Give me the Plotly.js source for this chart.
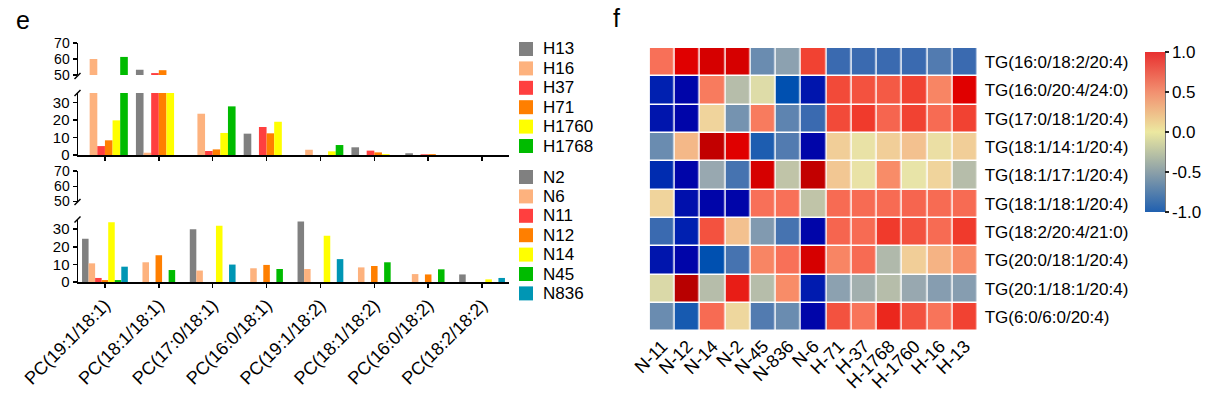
<!DOCTYPE html>
<html>
<head>
<meta charset="utf-8">
<script src="https://cdn.plot.ly/plotly-3.0.1.min.js"></script>
<style>
  html, body { margin: 0; padding: 0; background: #fff; }
  #chart { width: 1222px; height: 393px; }
</style>
</head>
<body>
<div id="chart"></div>
<script>
// ---------- data: panel e (bar charts) ----------
const categories = ['PC(19:1/18:1)', 'PC(18:1/18:1)', 'PC(17:0/18:1)', 'PC(16:0/18:1)',
                    'PC(19:1/18:2)', 'PC(18:1/18:2)', 'PC(16:0/18:2)', 'PC(18:2/18:2)'];

const hNames = ['H13', 'H16', 'H37', 'H71', 'H1760', 'H1768'];
const H13   = [0,    53.3, 0,    12.2, 0,   4.4, 1.0, 0];
const H16   = [60,   1.3,  23.6, 0,    3.0, 0,   0,   0];
const H37   = [5.1,  51.2, 2.3,  16,   0,   2.5, 0.4, 0];
const H71   = [8.4,  53,   3.2,  12.4, 0,   1.5, 0.5, 0];
const H1760 = [19.8, 40,   12.6, 19,   2.1, 0.5, 0,   0];
const H1768 = [61.3, 0,    27.8, 0,    5.7, 0,   0,   0];
const hValues = [H13, H16, H37, H71, H1760, H1768];

const nNames = ['N2', 'N6', 'N11', 'N12', 'N14', 'N45', 'N836'];
const N2   = [24.5, 0,    30,  0,   34.3, 0,    0,   4.3];
const N6   = [10.6, 11.2, 6.5, 7.8, 7.4,  8.3,  4.5, 0];
const N11  = [2.3,  0,    0,   0,   0,    0,    0,   0];
const N12  = [1.1,  15.2, 0,   9.7, 0,    9.1,  4.3, 0];
const N14  = [34,   0,    32,  0,   26.2, 0,    0,   1.5];
const N45  = [1.1,  6.8,  0,   7.4, 0,    11.2, 7.2, 0];
const N836 = [8.7,  0,    9.9, 0,   13,   0,    0,   2.3];
const nValues = [N2, N6, N11, N12, N14, N45, N836];

const lowerTicks = [0, 10, 20, 30];
const upperTicks = [50, 60, 70];

// ---------- data: panel f (heatmap) ----------
const heatCols = ['N-11', 'N-12', 'N-14', 'N-2', 'N-45', 'N-836', 'N-6',
                  'H-71', 'H-37', 'H-1768', 'H-1760', 'H-16', 'H-13'];
const heatRows = ['TG(16:0/18:2/20:4)', 'TG(16:0/20:4/24:0)', 'TG(17:0/18:1/20:4)',
                  'TG(18:1/14:1/20:4)', 'TG(18:1/17:1/20:4)', 'TG(18:1/18:1/20:4)',
                  'TG(18:2/20:4/21:0)', 'TG(20:0/18:1/20:4)', 'TG(20:1/18:1/20:4)',
                  'TG(6:0/6:0/20:4)'];
const heatValues = [
  [ 0.6,   1.3,   1.35,  1.35, -0.6,  -0.45,  0.95, -0.8,  -0.8,  -0.8,  -0.8,  -0.7,  -0.8 ],
  [-1.2,  -1.45,  0.55, -0.25, -0.05, -1.0,  -1.3,   0.9,   0.85,  0.8,   0.95,  0.5,   1.3 ],
  [-1.3,  -1.45,  0.15, -0.55,  0.55, -0.65, -0.8,   0.9,   1.0,   0.7,   0.95,  0.65,  0.95],
  [-0.6,   0.3,   1.45,  1.3,  -0.9,  -0.7,  -1.45,  0.18,  0.02,  0.18,  0.25,  0.05,  0.18],
  [-1.15, -1.45, -0.4,  -0.75,  1.35, -0.2,   1.45,  0.22,  0.02,  0.47,  0.0,   0.15, -0.25],
  [ 0.15, -1.35, -1.45, -1.45,  0.6,   0.6,  -0.2,   0.65,  0.65,  0.65,  0.7,   0.65,  0.65],
  [-0.8,  -1.2,   0.85,  0.25, -0.5,  -0.75, -1.45,  0.7,   0.65,  1.0,   0.85,  0.65,  1.0 ],
  [-1.3,  -1.45, -1.0,  -0.75,  0.5,   0.6,   1.35,  0.5,   0.65, -0.28,  0.18,  0.32,  0.47],
  [-0.07,  1.5,  -0.25,  1.15, -0.25,  0.47, -1.25, -0.45, -0.35, -0.25, -0.4,  -0.48, -0.48],
  [-0.6,  -0.92,  0.65,  0.12, -0.7,  -0.6,  -1.45,  0.85,  0.58,  1.1,   0.85,  0.58,  0.95]
];

// ---------- styling ----------
const W = 1222, Hh = 393;
const px = v => v / W;
const py = v => 1 - v / Hh;
const FONT = 'Liberation Sans, Arial, sans-serif';
const hColors = ['#808080', '#FDB27E', '#FF3F3F', '#FF7F00', '#FFFF00', '#00BB00'];
const nColors = ['#808080', '#FDB27E', '#FF3F3F', '#FF7F00', '#FFFF00', '#00BB00', '#0096B4'];

const traces = [];
hNames.forEach((nm, i) => {
  ['y', 'y2'].forEach(ya => traces.push({type: 'bar', x: categories, y: hValues[i], xaxis: 'x', yaxis: ya,
    name: nm, showlegend: false, marker: {color: hColors[i], line: {width: 0}}, hoverinfo: 'x+y+name'}));
});
nNames.forEach((nm, i) => {
  ['y3', 'y4'].forEach(ya => traces.push({type: 'bar', x: categories, y: nValues[i], xaxis: 'x2', yaxis: ya,
    name: nm, showlegend: false, marker: {color: nColors[i], line: {width: 0}}, hoverinfo: 'x+y+name'}));
});

// heatmap (cells)
const heatScale = [
  [0.0,    '#0000A8'],
  [0.1,    '#0020B0'],
  [0.1667, '#0050B0'],
  [0.2333, '#3A6AB0'],
  [0.3,    '#6A8CB0'],
  [0.3667, '#98A8B0'],
  [0.4333, '#C0C4A8'],
  [0.5,    '#E8E4A8'],
  [0.55,   '#F0D49C'],
  [0.6,    '#F4B888'],
  [0.65,   '#F8906A'],
  [0.7,    '#F87058'],
  [0.7667, '#F45A45'],
  [0.8333, '#F03A2C'],
  [0.9333, '#E00000'],
  [1.0,    '#B80000']
];
traces.push({type: 'heatmap', x: heatCols, y: heatRows, z: heatValues,
  xaxis: 'x3', yaxis: 'y5', zmin: -1.5, zmax: 1.5, colorscale: heatScale,
  showscale: false, xgap: 1.5, ygap: 1.5});

// colour bar (legend of the heatmap)
const barScale = [
  [0.0,  '#2060B0'],
  [0.25, '#8CA0A8'],
  [0.5,  '#ECE8A0'],
  [0.75, '#F29070'],
  [1.0,  '#E83030']
];
traces.push({type: 'scatter', mode: 'markers', x: [0], y: [0], xaxis: 'x4', yaxis: 'y6',
  showlegend: false, hoverinfo: 'skip',
  marker: {color: [0], cmin: -1, cmax: 1, colorscale: barScale, showscale: true, size: 1,
    colorbar: {thickness: 20, thicknessmode: 'pixels', len: 160, lenmode: 'pixels',
      x: px(1145), xanchor: 'left', y: py(52), yanchor: 'top', xpad: 0, ypad: 0,
      outlinewidth: 0, tickmode: 'array', tickvals: [-1, -0.5, 0, 0.5, 1],
      ticktext: ['-1.0', '-0.5', '0.0', '0.5', '1.0'],
      ticks: 'outside', ticklen: 4, tickwidth: 1.2, tickcolor: '#222',
      tickfont: {family: FONT, size: 17, color: '#000'}}}});

const xBase = {type: 'category', range: [-0.5, 7.5], domain: [px(78), px(509)],
  showline: true, linecolor: '#000', linewidth: 1.5, ticks: 'outside', ticklen: 4,
  tickwidth: 1.5, tickcolor: '#000', showgrid: false, zeroline: false, fixedrange: true};
const yBase = {showline: true, linecolor: '#000', linewidth: 1.5, ticks: 'outside', ticklen: 4,
  tickwidth: 1.5, tickcolor: '#000', showgrid: false, zeroline: false, fixedrange: true,
  ticklabelstandoff: 0};
const lowerFont = {family: FONT, size: 15, color: '#000'};
const upperFont = {family: FONT, size: 14, color: '#000'};

// manual legends (swatch + label), built from the series names/colours
const legendShapes = [];
const legendAnn = [];
function addLegend(names, colors, firstY) {
  names.forEach((nm, i) => {
    const cy = firstY + i * 19.4;
    legendShapes.push({type: 'rect', xref: 'paper', yref: 'paper',
      x0: px(519), x1: px(533), y0: py(cy + 7), y1: py(cy - 7),
      fillcolor: colors[i], line: {width: 0}});
    legendAnn.push({text: nm, x: px(541), y: py(cy), xref: 'paper', yref: 'paper',
      xanchor: 'left', yanchor: 'middle', showarrow: false,
      font: {family: FONT, size: 17, color: '#000'}});
  });
}
addLegend(hNames, hColors, 49);
addLegend(nNames, nColors, 177);

const layout = {
  width: W, height: Hh,
  margin: {l: 0, r: 0, t: 0, b: 0},
  paper_bgcolor: '#fff', plot_bgcolor: '#fff',
  font: {family: FONT, color: '#000'},
  barmode: 'group', bargap: 0.15, bargroupgap: 0,
  showlegend: false,
  xaxis: Object.assign({}, xBase, {anchor: 'y', showticklabels: false}),
  yaxis: Object.assign({}, yBase, {anchor: 'x', domain: [py(155), py(92.9)], range: [0, 35.5], tickvals: lowerTicks, tickfont: lowerFont}),
  yaxis2: Object.assign({}, yBase, {anchor: 'x', domain: [py(75), py(43)], range: [50, 70], tickvals: upperTicks, tickfont: upperFont}),
  xaxis2: Object.assign({}, xBase, {anchor: 'y3', showticklabels: true, tickangle: -45,
    tickfont: {family: FONT, size: 18, color: '#000'}}),
  yaxis3: Object.assign({}, yBase, {anchor: 'x2', domain: [py(282), py(219.5)], range: [0, 35.5], tickvals: lowerTicks, tickfont: lowerFont}),
  yaxis4: Object.assign({}, yBase, {anchor: 'x2', domain: [py(201.5), py(171)], range: [50, 70], tickvals: upperTicks, tickfont: upperFont}),
  xaxis3: {anchor: 'y5', domain: [px(649.7), px(977.7)], type: 'category', tickangle: -45,
    ticks: '', showline: false, showgrid: false, zeroline: false, fixedrange: true,
    tickfont: {family: FONT, size: 18, color: '#000'}},
  yaxis5: {anchor: 'x3', domain: [py(331.3), py(48)], type: 'category', side: 'right',
    autorange: 'reversed', ticks: '', showline: false, showgrid: false, zeroline: false,
    fixedrange: true, ticklabelstandoff: 6, tickfont: {family: FONT, size: 17, color: '#000'}},
  xaxis4: {anchor: 'y6', domain: [0.99, 1], range: [1, 2], visible: false, fixedrange: true},
  yaxis6: {anchor: 'x4', domain: [0.99, 1], range: [1, 2], visible: false, fixedrange: true},
  annotations: [
    {text: 'e', x: px(14), y: py(20), xref: 'paper', yref: 'paper', xanchor: 'left', yanchor: 'middle',
     showarrow: false, font: {family: FONT, size: 25, color: '#000'}},
    {text: 'f', x: px(611), y: py(18), xref: 'paper', yref: 'paper', xanchor: 'left', yanchor: 'middle',
     showarrow: false, font: {family: FONT, size: 25, color: '#000'}}
  ].concat(legendAnn),
  shapes: [
    // axis-break marks
    {type: 'line', xref: 'paper', yref: 'paper', x0: px(74.5), y0: py(79), x1: px(80.5), y1: py(73), line: {color: '#000', width: 1.5}},
    {type: 'line', xref: 'paper', yref: 'paper', x0: px(74.5), y0: py(96), x1: px(80.5), y1: py(90), line: {color: '#000', width: 1.5}},
    {type: 'line', xref: 'paper', yref: 'paper', x0: px(74.5), y0: py(205), x1: px(80.5), y1: py(199), line: {color: '#000', width: 1.5}},
    {type: 'line', xref: 'paper', yref: 'paper', x0: px(74.5), y0: py(222.5), x1: px(80.5), y1: py(216.5), line: {color: '#000', width: 1.5}},
    // colour bar axis line
    {type: 'line', xref: 'paper', yref: 'paper', x0: px(1165), y0: py(52), x1: px(1165), y1: py(212), line: {color: '#222', width: 1.2}}
  ].concat(legendShapes)
};

Plotly.newPlot('chart', traces, layout, {displayModeBar: false, staticPlot: true});
</script>
</body>
</html>
